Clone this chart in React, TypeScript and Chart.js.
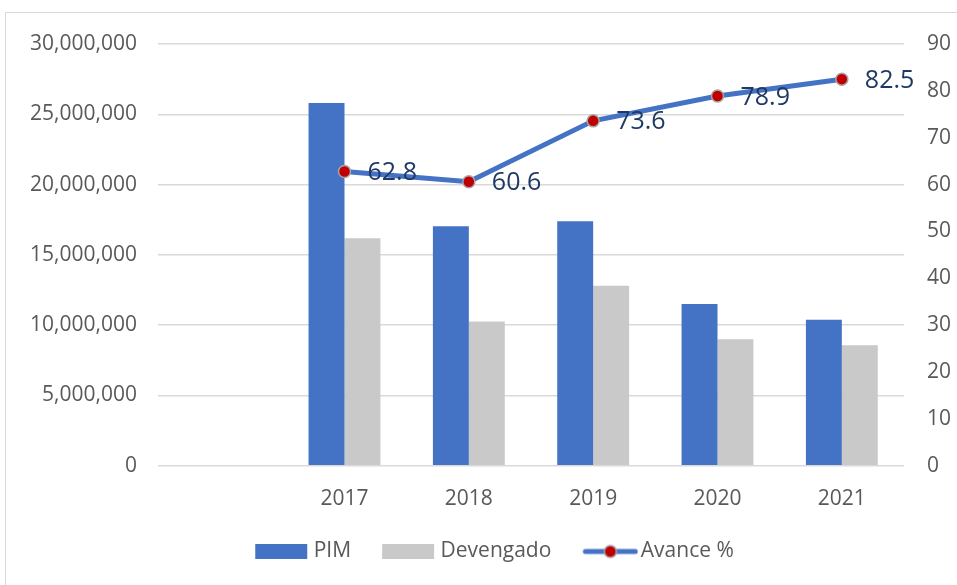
import React, { useEffect, useRef } from "react";
import { Chart, registerables } from "chart.js";

Chart.register(...registerables);

const categories = ["", "2017", "2018", "2019", "2020", "2021"];
const pimValues = [null, 25800000, 17040000, 17400000, 11500000, 10380000];
const devengadoValues = [null, 16190000, 10260000, 12800000, 9000000, 8580000];
const avanceValues = [null, 62.8, 60.6, 73.6, 78.9, 82.5];
const seriesNames = ["PIM", "Devengado", "Avance %"];

const BLUE = "#4472C4";
const GRAY = "#C9C9C9";
const RED = "#C00000";
const FONT = "'Open Sans', sans-serif";
const TICK_COLOR = "#595959";

const IMG_W = 64;
const IMG_OFF = 8;

function makeBox(color: string) {
  const c = document.createElement("canvas");
  c.width = IMG_W;
  c.height = 15;
  const ctx = c.getContext("2d")!;
  ctx.fillStyle = color;
  ctx.fillRect(IMG_OFF, 0, 52, 15);
  return c;
}

function makeLineMarker() {
  const c = document.createElement("canvas");
  c.width = IMG_W;
  c.height = 16;
  const ctx = c.getContext("2d")!;
  ctx.strokeStyle = BLUE;
  ctx.lineWidth = 5;
  ctx.lineCap = "round";
  ctx.beginPath();
  ctx.moveTo(IMG_OFF + 3, 8);
  ctx.lineTo(IMG_OFF + 53, 8);
  ctx.stroke();
  ctx.beginPath();
  ctx.arc(IMG_OFF + 28, 8, 6, 0, Math.PI * 2);
  ctx.fillStyle = RED;
  ctx.fill();
  ctx.lineWidth = 1.5;
  ctx.strokeStyle = "#A6A6A6";
  ctx.stroke();
  return c;
}

const labelPlugin = {
  id: "pointLabels",
  afterLayout(chart: any) {
    if (chart.legend) {
      chart.legend.left += 16;
      chart.legend.right += 16;
    }
  },
  afterDatasetsDraw(chart: any) {
    const meta = chart.getDatasetMeta(2);
    const ctx = chart.ctx;
    ctx.save();
    ctx.font = `25px ${FONT}`;
    ctx.fillStyle = "#1F3864";
    ctx.textAlign = "left";
    ctx.textBaseline = "middle";
    meta.data.forEach((pt: any, i: number) => {
      const v = avanceValues[i];
      if (v === null || v === undefined) return;
      ctx.fillText(v.toFixed(1), pt.x + 23, pt.y + 1.5);
    });
    ctx.restore();
  },
};

export default function App() {
  const ref = useRef<HTMLCanvasElement>(null);

  useEffect(() => {
    if (!ref.current) return;
    const boxes = [makeBox(BLUE), makeBox(GRAY), makeLineMarker()];
    const chart = new Chart(ref.current, {
      type: "bar",
      data: {
        labels: categories,
        datasets: [
          {
            type: "bar",
            label: seriesNames[0],
            data: pimValues as any,
            backgroundColor: BLUE,
            yAxisID: "y",
            order: 2,
            categoryPercentage: 0.578,
            barPercentage: 1,
          },
          {
            type: "bar",
            label: seriesNames[1],
            data: devengadoValues as any,
            backgroundColor: GRAY,
            yAxisID: "y",
            order: 2,
            categoryPercentage: 0.578,
            barPercentage: 1,
          },
          {
            type: "line",
            label: seriesNames[2],
            data: avanceValues as any,
            borderColor: BLUE,
            backgroundColor: RED,
            borderWidth: 5,
            pointRadius: 6,
            pointBackgroundColor: RED,
            pointBorderColor: "#A6A6A6",
            pointBorderWidth: 1.5,
            yAxisID: "y1",
            order: 0,
            tension: 0,
          } as any,
        ],
      },
      options: {
        animation: false,
        responsive: false,
        maintainAspectRatio: false,
        layout: { padding: { top: 44, bottom: 13, left: 0, right: 0 } },
        plugins: {
          tooltip: { enabled: false },
          legend: {
            position: "bottom",
            labels: {
              usePointStyle: true,
              pointStyleWidth: 48,
              boxHeight: 15,
              padding: 31,
              color: TICK_COLOR,
              font: { family: FONT, size: 21 },
              generateLabels: () =>
                seriesNames.map((name, i) => ({
                  text: name,
                  pointStyle: boxes[i] as any,
                  fillStyle: "transparent",
                  strokeStyle: "transparent",
                  lineWidth: 0,
                  hidden: false,
                  datasetIndex: i,
                  fontColor: TICK_COLOR,
                })),
            },
          },
        },
        scales: {
          x: {
            grid: { display: false },
            border: { display: false },
            afterFit: (s: any) => {
              s.height = s.height - 15;
            },
            ticks: {
              color: TICK_COLOR,
              font: { family: FONT, size: 21 },
              padding: 13,
            },
          },
          y: {
            position: "left",
            min: 0,
            max: 30000000,
            afterFit: (s: any) => {
              s.width = 158;
            },
            ticks: {
              stepSize: 5000000,
              color: TICK_COLOR,
              font: { family: FONT, size: 21 },
              padding: 21,
              callback: (v: any) => Number(v).toLocaleString("en-US"),
            },
            grid: { color: "#D9D9D9", lineWidth: 1.5, drawTicks: false },
            border: { display: false },
          },
          y1: {
            position: "right",
            min: 0,
            max: 90,
            afterFit: (s: any) => {
              s.width = 53;
            },
            ticks: {
              stepSize: 10,
              color: TICK_COLOR,
              font: { family: FONT, size: 21 },
              padding: 23,
            },
            grid: { display: false, drawTicks: false },
            border: { display: false },
          },
        },
      },
      plugins: [labelPlugin],
    });
    return () => chart.destroy();
  }, []);

  return (
    <div
      style={{
        position: "fixed",
        left: 0,
        top: 0,
        width: 957,
        height: 585,
        overflow: "hidden",
        background: "#fff",
      }}
    >
      <div
        style={{
          position: "absolute",
          left: 5,
          top: 12,
          width: 1000,
          height: 1000,
          border: "1px solid #D9D9D9",
        }}
      />
      <canvas
        ref={ref}
        width={957}
        height={585}
        style={{ position: "absolute", left: 0, top: 0 }}
      />
    </div>
  );
}
